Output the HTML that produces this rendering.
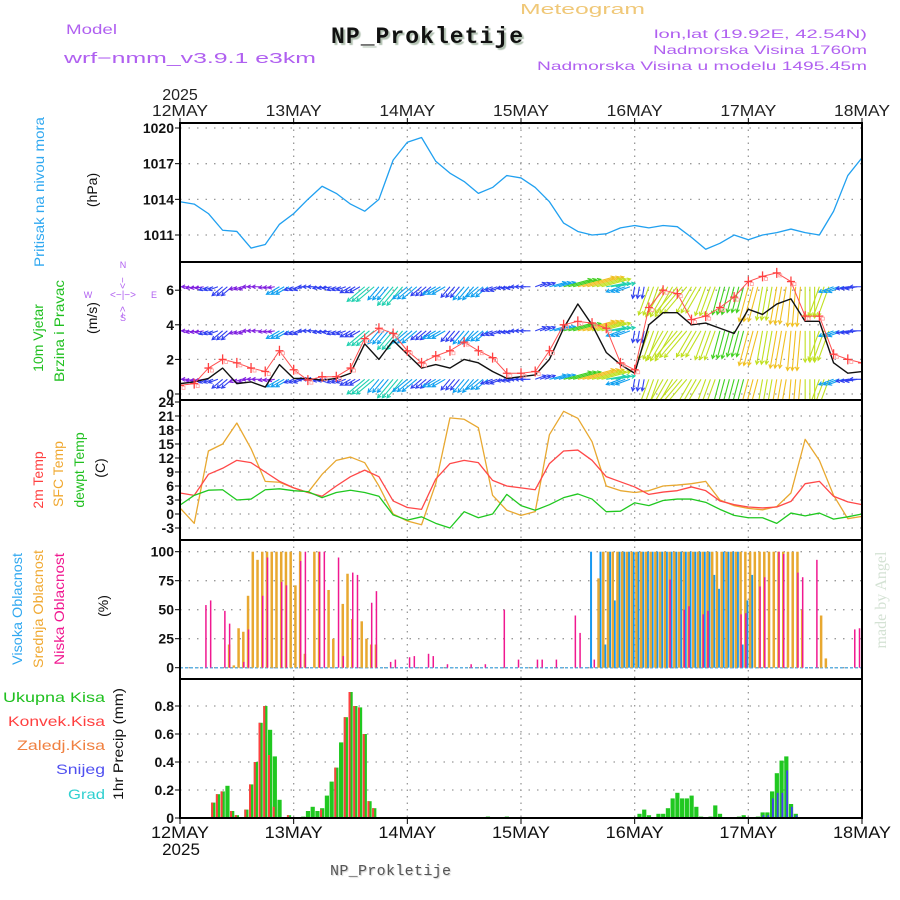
<!DOCTYPE html>
<html><head><meta charset="utf-8">
<style>
html,body{margin:0;padding:0;background:#fff;}
svg{display:block;font-family:"Liberation Sans",sans-serif;}
</style></head>
<body>
<svg id="chart" width="900" height="900" viewBox="0 0 900 900" xmlns="http://www.w3.org/2000/svg">
<rect x="0" y="0" width="900" height="900" fill="#fff"/>
<text x="66" y="34" font-size="14" fill="#b060f0" textLength="51" lengthAdjust="spacingAndGlyphs">Model</text>
<text x="64" y="63" font-size="15" fill="#b060f0" textLength="252" lengthAdjust="spacingAndGlyphs">wrf−nmm_v3.9.1 e3km</text>
<text x="520" y="14" font-size="15" fill="#f0c878" textLength="125" lengthAdjust="spacingAndGlyphs">Meteogram</text>
<text x="331" y="43" font-family="Liberation Mono, monospace" font-weight="bold" font-size="23" fill="#111" textLength="192" lengthAdjust="spacing" style="text-shadow:2px 2px 1px #b0c0b0">NP_Prokletije</text>
<text x="867" y="38" font-size="12" fill="#b060f0" text-anchor="end" textLength="213" lengthAdjust="spacingAndGlyphs">lon,lat (19.92E, 42.54N)</text>
<text x="867" y="54" font-size="12" fill="#b060f0" text-anchor="end" textLength="214" lengthAdjust="spacingAndGlyphs">Nadmorska Visina 1760m</text>
<text x="867" y="70" font-size="12" fill="#b060f0" text-anchor="end" textLength="330" lengthAdjust="spacingAndGlyphs">Nadmorska Visina u modelu 1495.45m</text>
<text x="330" y="875" font-family="Liberation Mono, monospace" font-size="15" fill="#555" textLength="121" lengthAdjust="spacing" style="text-shadow:1px 1px 1px #ccc">NP_Prokletije</text>
<text transform="translate(886,600) rotate(-90)" text-anchor="middle" font-family="Liberation Serif, serif" font-size="16" fill="#d4e2d4">made by Angel</text>

<text transform="translate(44,192) rotate(-90)" text-anchor="middle" font-size="14" fill="#30a8f0" textLength="150" lengthAdjust="spacingAndGlyphs">Pritisak na nivou mora</text>
<text transform="translate(97,190) rotate(-90)" text-anchor="middle" font-size="14" fill="#111">(hPa)</text>
<text transform="translate(43,338) rotate(-90)" text-anchor="middle" font-size="14" fill="#20c020">10m Vjetar</text>
<text transform="translate(64,331) rotate(-90)" text-anchor="middle" font-size="14" fill="#20c020" textLength="102" lengthAdjust="spacingAndGlyphs">Brzina i Pravac</text>
<text transform="translate(97,318) rotate(-90)" text-anchor="middle" font-size="14" fill="#111">(m/s)</text>
<g fill="#b060f0" stroke="none" font-size="9">
<text x="123" y="268" text-anchor="middle">N</text>
<text x="123" y="321" text-anchor="middle">S</text>
<text x="88" y="298" text-anchor="middle">W</text>
<text x="154" y="298" text-anchor="middle">E</text>
<text x="123" y="298" text-anchor="middle" font-size="10">&lt;−|−&gt;</text>
<text transform="translate(126,283) rotate(-90)" text-anchor="middle" font-size="10">&lt;−</text>
<text transform="translate(126,312) rotate(-90)" text-anchor="middle" font-size="10">−&gt;</text>
</g>
<text transform="translate(43,480) rotate(-90)" text-anchor="middle" font-size="14" fill="#ff4040">2m Temp</text>
<text transform="translate(63,474) rotate(-90)" text-anchor="middle" font-size="14" fill="#f0a830">SFC Temp</text>
<text transform="translate(84,470) rotate(-90)" text-anchor="middle" font-size="14" fill="#20c020">dewpt Temp</text>
<text transform="translate(105,468) rotate(-90)" text-anchor="middle" font-size="14" fill="#111">(C)</text>
<text transform="translate(22,609) rotate(-90)" text-anchor="middle" font-size="14" fill="#30a8f0" textLength="112" lengthAdjust="spacingAndGlyphs">Visoka Oblacnost</text>
<text transform="translate(43,609) rotate(-90)" text-anchor="middle" font-size="14" fill="#f0a830" textLength="118" lengthAdjust="spacingAndGlyphs">Srednja Oblacnost</text>
<text transform="translate(64,609) rotate(-90)" text-anchor="middle" font-size="14" fill="#f01890" textLength="112" lengthAdjust="spacingAndGlyphs">Niska Oblacnost</text>
<text transform="translate(108,606) rotate(-90)" text-anchor="middle" font-size="14" fill="#111">(%)</text>
<g font-size="14" text-anchor="end">
<text x="105" y="702" fill="#20c020" textLength="102" lengthAdjust="spacingAndGlyphs">Ukupna Kisa</text>
<text x="105" y="726" fill="#ff4040" textLength="97" lengthAdjust="spacingAndGlyphs">Konvek.Kisa</text>
<text x="105" y="750" fill="#f08040" textLength="88" lengthAdjust="spacingAndGlyphs">Zaledj.Kisa</text>
<text x="105" y="774" fill="#5050f0" textLength="49" lengthAdjust="spacingAndGlyphs">Snijeg</text>
<text x="105" y="799" fill="#30d0d0" textLength="37" lengthAdjust="spacingAndGlyphs">Grad</text>
</g>
<text transform="translate(123,744) rotate(-90)" text-anchor="middle" font-size="14" fill="#111" textLength="112" lengthAdjust="spacingAndGlyphs">1hr Precip (mm)</text>
<g id="plot"></g>
</svg>
<script>
const days = ["12MAY","13MAY","14MAY","15MAY","16MAY","17MAY","18MAY"];
const hours3 = [0,3,6,9,12,15,18,21,24,27,30,33,36,39,42,45,48,51,54,57,60,63,66,69,72,75,78,81,84,87,90,93,96,99,102,105,108,111,114,117,120,123,126,129,132,135,138,141,144];
const pressure = [1013.8,1013.6,1012.8,1011.4,1011.3,1009.9,1010.2,1011.9,1012.8,1014.0,1015.1,1014.5,1013.6,1013.0,1014.0,1017.3,1018.8,1019.2,1017.2,1016.2,1015.5,1014.5,1015.0,1016.0,1015.8,1015.0,1013.8,1012.0,1011.3,1011.0,1011.1,1011.6,1011.8,1011.6,1011.8,1011.7,1010.8,1009.8,1010.3,1011.0,1010.6,1011.0,1011.2,1011.5,1011.2,1011.0,1013.0,1016.0,1017.5];
const windSpeed = [0.6,0.7,0.9,1.5,0.6,0.7,0.4,1.7,0.9,0.9,0.8,0.9,1.2,2.9,2.0,3.1,2.3,1.5,1.7,1.5,2.0,1.8,1.3,0.9,1.0,1.1,2.0,3.8,5.2,4.0,2.4,1.7,1.2,4.0,4.7,4.7,4.0,4.1,3.8,3.5,4.9,4.6,5.2,5.5,4.2,4.2,1.8,1.2,1.3];
const windGust = [0.5,0.6,1.5,2.0,1.8,1.5,1.3,2.5,1.4,0.8,1.0,1.0,1.5,3.2,3.8,3.5,2.5,1.8,2.2,2.5,3.0,2.5,2.1,1.2,1.2,1.3,2.5,4.0,4.2,4.1,3.8,1.8,1.4,5.0,6.0,5.8,4.3,4.5,5.0,5.6,6.5,6.8,7.0,6.5,4.5,4.5,2.3,2.0,1.8];
const windDir = [180,190,200,220,200,180,190,210,200,180,190,200,210,220,230,230,220,220,210,230,230,220,200,190,180,20,15,15,15,15,10,200,260,250,240,230,240,250,255,255,255,260,260,265,270,250,200,190,180];
const temp2m = [4.5,4.0,8.5,9.8,11.5,11.0,9.0,7.0,5.6,4.6,3.8,6.0,8.0,9.4,8.0,2.8,1.4,1.0,7.5,10.8,11.5,11.0,7.2,6.0,5.6,5.2,10.8,13.5,13.7,11.5,8.0,6.9,5.8,4.2,4.7,5.0,5.8,5.0,2.8,2.0,1.5,1.3,1.5,2.7,6.5,7.0,3.8,2.6,2.0];
const tempSfc = [1.3,-2.0,13.5,15.0,19.5,14.0,7.0,6.8,5.6,4.6,8.5,11.5,12.2,11.0,6.0,0.0,-1.5,-2.3,6.5,20.6,20.3,18.5,4.0,0.8,-0.3,0.5,17.0,22.0,20.5,15.5,6.0,5.0,4.6,5.0,6.0,6.2,6.5,7.0,3.0,1.8,1.2,0.9,1.6,4.5,16.0,11.5,4.0,-1.0,-0.5];
const dewpoint = [1.9,4.0,5.1,5.2,3.0,3.2,5.2,5.4,5.0,4.8,3.5,4.6,5.1,4.6,3.8,-0.2,-1.3,-0.6,-2.0,-3.0,0.5,-0.8,0.0,4.2,1.8,0.8,2.0,3.5,4.3,3.2,0.5,0.6,2.4,1.8,2.9,3.2,3.2,2.5,1.0,-0.3,-0.8,-0.8,-2.0,0.2,-0.4,0.2,-1.1,-0.6,0.0];
const cloudLowHours = [5,6,9,10,13,14,17,18,21,22,25,26,29,30,33,34,36,37,40,41,44,45,48,49,52,53,56,61,64,68,71,75,76,79,83,84,87,103,106,107,110,111,118,119,122,123,126,127,130,131,134,142,143];
const cloudLow = [54,58,49,38,5,33,62,95,74,71,92,100,100,100,95,10,82,80,56,66,5,7,9,10,12,10,3,3,3,50,7,7,7,7,45,30,7,76,50,53,46,49,46,47,70,78,100,98,82,78,93,33,34];
const cloudMidHours = [10,11,12,13,14,15,16,17,18,19,20,21,22,23,24,25,26,28,29,31,32,34,35,36,38,39,40,41,88,89,90,91,92,93,94,95,96,97,98,99,100,101,102,103,104,105,106,107,108,109,110,111,112,113,114,115,116,117,118,119,120,121,122,123,124,125,126,127,128,129,130,131,135,136];
const cloudMid = [20,2,34,31,62,100,93,100,100,100,100,100,100,100,71,100,12,100,100,67,25,55,81,42,40,25,20,20,77,100,100,100,100,100,100,100,100,100,100,100,100,100,100,100,100,100,100,100,100,100,100,100,100,100,100,100,100,100,100,100,100,100,100,100,100,100,100,100,100,100,100,50,45,8];
const cloudHighHours = [87,89,90,91,92,93,94,95,96,97,98,99,100,101,102,103,104,105,106,107,108,109,110,111,112,113,114,115,116,117,118,119,120,121];
const cloudHigh = [100,100,20,100,58,100,100,100,100,100,100,100,100,100,100,100,100,100,100,100,100,100,100,100,100,80,68,100,100,100,100,20,58,80];
const precipHours = [7,8,9,10,11,12,14,15,16,17,18,19,20,21,23,26,27,28,29,30,31,32,33,34,35,36,37,38,39,40,41,65,69,97,98,99,101,102,103,104,105,106,107,108,109,110,112,113,114,118,119,122,123,124,125,126,127,128,129,130];
const precipTotal = [0.11,0.17,0.19,0.23,0.05,0.02,0.06,0.24,0.40,0.68,0.80,0.63,0.44,0.13,0.02,0.01,0.05,0.08,0.05,0.07,0.16,0.26,0.36,0.54,0.72,0.90,0.80,0.79,0.60,0.12,0.07,0.01,0.01,0.03,0.06,0.02,0.03,0.03,0.07,0.14,0.18,0.14,0.14,0.16,0.08,0.01,0.01,0.09,0.03,0.01,0.02,0.01,0.04,0.04,0.19,0.32,0.41,0.44,0.10,0.03];
const precipConv = [0.11,0.17,0.19,0,0.05,0.02,0.06,0.24,0.40,0.68,0.80,0.45,0.08,0,0.02,0,0,0,0,0.06,0,0,0.36,0,0.72,0.90,0.80,0.79,0.60,0.12,0.07,0,0,0,0,0,0,0,0,0,0,0,0,0,0,0,0,0,0,0,0,0,0,0,0,0,0,0,0,0];
const precipSnow = [0,0,0,0,0,0,0,0,0,0,0,0,0,0,0,0,0,0,0,0,0,0,0,0,0,0,0,0,0,0,0,0,0,0,0,0,0,0,0,0,0,0,0,0,0,0,0,0,0,0,0,0,0.02,0.02,0.14,0.18,0.18,0.34,0.08,0.02];
const pressTicks = [1011,1014,1017,1020];
const windTicks = [0,2,4,6];
const tempTicks = [-3,0,3,6,9,12,15,18,21,24];
const cloudTicks = [0,25,50,75,100];
const precipTicks = [0,0.2,0.4,0.6,0.8];

const NS="http://www.w3.org/2000/svg";
const plot=document.getElementById('plot');
const X0=180,X1=862,HMAX=144;
const xh=h=>X0+h*(X1-X0)/HMAX;
const panels={
 p:{top:123,bot:262,scale:v=>128+(1020-v)*11.89},
 w:{top:262,bot:400,scale:v=>394-v*17.3},
 t:{top:400,bot:540,scale:v=>402+(24-v)*4.667},
 c:{top:540,bot:679,scale:v=>667.7-v*1.16},
 r:{top:679,bot:818,scale:v=>818-v*140}
};
function mk(tag,attrs,parent){const e=document.createElementNS(NS,tag);for(const k in attrs)e.setAttribute(k,attrs[k]);(parent||plot).appendChild(e);return e;}
function clipPanel(key){
 const P=panels[key];
 const cp=mk('clipPath',{id:'clip-'+key});
 mk('rect',{x:X0,y:P.top,width:X1-X0,height:P.bot-P.top},cp);
 return mk('g',{'clip-path':'url(#clip-'+key+')'});
}
function grid(key,ticks,fmt){
 const P=panels[key];
 const g=mk('g',{});
 
 
 for(let d=1;d<days.length-1;d++){
  mk('line',{x1:xh(d*24),x2:xh(d*24),y1:P.top,y2:P.bot,stroke:'#999','stroke-width':1.3,'stroke-dasharray':'1.5,5'},g);
 }
 ticks.forEach(v=>{
  const y=P.scale(v);
  if(y>P.top+2&&y<P.bot-1) mk('line',{x1:X0,x2:X1,y1:y,y2:y,stroke:'#999','stroke-width':1.3,'stroke-dasharray':'1.5,7'},g);
  mk('line',{x1:X0-5,x2:X0,y1:y,y2:y,stroke:'#000','stroke-width':1},g);
  const t=mk('text',{x:X0-6,y:y+5,'text-anchor':'end','font-size':14,'font-weight':'bold',fill:'#111'},g);
  
  
  t.textContent=fmt?fmt(v):String(v);
 });
}
grid('p',pressTicks);
grid('w',windTicks);
grid('t',tempTicks);
grid('c',cloudTicks);
grid('r',precipTicks,v=>v===0?'0':v.toFixed(1));

function line(key,hs,vals,color,name,w){
 const P=panels[key];
 const g=clipPanel(key);
 const pl=mk('polyline',{points:hs.map((h,i)=>xh(h)+','+P.scale(vals[i])).join(' '),fill:'none',stroke:color,'stroke-width':w||1.3,'stroke-linejoin':'round'},g);
 
 
 return g;
}
line('p',hours3,pressure,'#20a0f0','pressure-line');

function speedColor(s){
 const cols=['#8020e0','#3040f0','#10a0f0','#20d0b0','#40d020','#c0e020','#f0c020','#f08020','#f03030'];
 return cols[Math.max(0,Math.min(cols.length-1,Math.floor(s*1.25)))];
}
const gw=clipPanel('w');


const rows=[6.2,3.65,0.85];
rows.forEach(rv=>{
 const y0=panels.w.scale(rv);
 hours3.forEach((h,i)=>{
  for(let k=0;k<3;k++){
   const hh=h+k; if(hh>HMAX) continue;
   const s=windSpeed[i], a=windDir[i]*Math.PI/180;
   const L=4+s*6.5;
   const x0=xh(hh), x1=x0+L*Math.cos(a), y1=y0-L*Math.sin(a);
   const c=speedColor(s);
   const ar=mk('path',{d:`M${x0},${y0}L${x1},${y1}M${x1-4*Math.cos(a-0.5)},${y1+4*Math.sin(a-0.5)}L${x1},${y1}L${x1-4*Math.cos(a+0.5)},${y1+4*Math.sin(a+0.5)}`,stroke:c,'stroke-width':1.1,fill:'none'},gw);
   
   
  }
 });
});
line('w',hours3,windSpeed,'#111','wind-speed-line',1.4);
const gg=line('w',hours3,windGust,'#ff5050','wind-gust-line',1);
hours3.forEach((h,i)=>{
 const x=xh(h),y=panels.w.scale(windGust[i]);
 const m=mk('path',{d:`M${x-4},${y}H${x+4}M${x},${y-5}V${y+5}`,stroke:'#ff4040','stroke-width':1.3,fill:'none'},gg);
 
 
 mk('rect',{x:x+2,y:y+1,width:3,height:3,fill:'none',stroke:'#ffa0a0','stroke-width':0.8},gg);
});

line('t',hours3,tempSfc,'#e8a830','sfc-temp-line');
line('t',hours3,temp2m,'#ff4848','temp-2m-line');
line('t',hours3,dewpoint,'#20c820','dewpoint-line');

const gc=clipPanel('c');
mk('line',{x1:X0,x2:X1,y1:panels.c.scale(0),y2:panels.c.scale(0),stroke:'#60b0e0','stroke-width':1.5,'stroke-dasharray':'3,2'},gc);
function bars(g,hs,vals,key,color,dx,w,name){
 const P=panels[key];
 hs.forEach((h,i)=>{
  const y=P.scale(vals[i]),y0=P.scale(0);
  if(vals[i]<=0) return;
  const r=mk('rect',{x:xh(h)+dx,y:y,width:w,height:y0-y,fill:color},g);
  
  
 });
}
bars(gc,cloudHighHours,cloudHigh,'c','#1898f0',-2,2,'high-cloud-bar');
bars(gc,cloudMidHours,cloudMid,'c','#e8a830',0.5,2.5,'mid-cloud-bar');
bars(gc,cloudLowHours,cloudLow,'c','#f01890',1.5,1.5,'low-cloud-bar');

const gr=clipPanel('r');
bars(gr,precipHours,precipTotal,'r','#20c820',-2,4.2,'total-precip-bar');
bars(gr,precipHours,precipConv,'r','#ff4040',-2,2,'convective-precip-bar');
bars(gr,precipHours,precipSnow,'r','#4040f0',0,1.8,'snow-bar');

Object.keys(panels).forEach(k=>{
 const P=panels[k];
 const r=mk('rect',{x:X0,y:P.top,width:X1-X0,height:P.bot-P.top,fill:'none',stroke:'#000','stroke-width':2});
 
 
});
days.forEach((d,i)=>{
 const x=xh(i*24);
 mk('line',{x1:x,x2:x,y1:118,y2:123,stroke:'#000'});
 mk('line',{x1:x,x2:x,y1:818,y2:824,stroke:'#000'});
 const t=mk('text',{x:x,y:116,'text-anchor':'middle','font-size':16,fill:'#222',textLength:56,lengthAdjust:'spacingAndGlyphs'});
 
 
 t.textContent=d;
 const b=mk('text',{x:x,y:838,'text-anchor':'middle','font-size':17,fill:'#111',textLength:58,lengthAdjust:'spacingAndGlyphs'});
 
 
 b.textContent=d;
});
const y1=mk('text',{x:180,y:100,'text-anchor':'middle','font-size':16,fill:'#222'});


y1.textContent='2025';
const y2=mk('text',{x:181,y:855,'text-anchor':'middle','font-size':17,fill:'#111'});


y2.textContent='2025';
</script>
</body></html>
